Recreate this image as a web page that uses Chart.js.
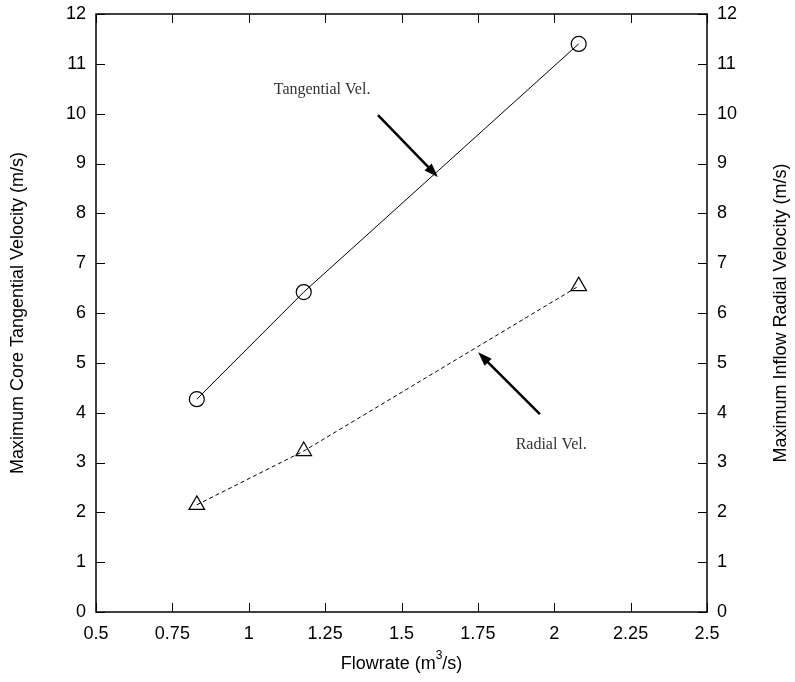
<!DOCTYPE html>
<html>
<head>
<meta charset="utf-8">
<script src="https://cdn.jsdelivr.net/npm/chart.js@4.4.0/dist/chart.umd.min.js"></script>
<style>
  html, body { margin: 0; padding: 0; background: #fff; }
  #wrap { width: 795px; height: 682px; }
</style>
</head>
<body>
<div id="wrap"><canvas id="chart" width="795" height="682"></canvas></div>
<script>
// --- data ---
const flowrate = [0.83, 1.18, 2.08];
const tangentialVel = [4.27, 6.42, 11.40];
const radialVel = [2.15, 3.23, 6.54];

const xTicks = [0.5, 0.75, 1, 1.25, 1.5, 1.75, 2, 2.25, 2.5];
const yTicks = [0, 1, 2, 3, 4, 5, 6, 7, 8, 9, 10, 11, 12];

const xTitle = ["Flowrate (m", "3", "/s)"];
const yTitle = "Maximum Core Tangential Velocity (m/s)";
const y2Title = "Maximum Inflow Radial Velocity (m/s)";

// annotation text + arrows, in data coordinates
const labelText = ["Tangential Vel.", "Radial Vel."];
const labelAt = [[1.24, 10.48], [1.99, 3.35]];
const arrowFrom = [[1.423, 9.97], [1.953, 3.97]];
const arrowTo = [[1.619, 8.73], [1.751, 5.21]];

const SANS = "'Liberation Sans', Arial, sans-serif";
Chart.defaults.font.family = SANS;
Chart.defaults.font.size = 18;
Chart.defaults.color = "#000";

// frame with inward ticks on all four sides, titles, arrows and labels
const framePlugin = {
  id: "frame",
  afterDatasetsDraw(chart) {
    const ctx = chart.ctx;
    const a = chart.chartArea;
    const x = chart.scales.x, y = chart.scales.y;
    ctx.save();
    ctx.strokeStyle = "#000";
    ctx.lineWidth = 1.5;
    ctx.strokeRect(a.left, a.top, a.right - a.left, a.bottom - a.top);
    ctx.lineWidth = 1;
    ctx.beginPath();
    xTicks.forEach(v => {
      const px = Math.round(x.getPixelForValue(v)) + 0.5;
      ctx.moveTo(px, a.bottom); ctx.lineTo(px, a.bottom - 9);
      ctx.moveTo(px, a.top); ctx.lineTo(px, a.top + 9);
    });
    yTicks.forEach(v => {
      const py = Math.round(y.getPixelForValue(v)) + 0.5;
      ctx.moveTo(a.left, py); ctx.lineTo(a.left + 9, py);
      ctx.moveTo(a.right, py); ctx.lineTo(a.right - 9, py);
    });
    ctx.stroke();

    // axis titles
    ctx.fillStyle = "#000";
    ctx.textBaseline = "middle";
    ctx.font = "18px " + SANS;
    const midY = (a.top + a.bottom) / 2;
    [[18, yTitle], [781, y2Title]].forEach(([cx, t]) => {
      ctx.save();
      ctx.translate(cx, midY);
      ctx.rotate(-Math.PI / 2);
      ctx.textAlign = "center";
      ctx.fillText(t, 0, 0);
      ctx.restore();
    });
    const w0 = ctx.measureText(xTitle[0]).width;
    const w2 = ctx.measureText(xTitle[2]).width;
    ctx.font = "12px " + SANS;
    const w1 = ctx.measureText(xTitle[1]).width;
    let tx = (a.left + a.right) / 2 - (w0 + w1 + w2) / 2;
    const ty = 664;
    ctx.textAlign = "left";
    ctx.font = "18px " + SANS;
    ctx.fillText(xTitle[0], tx, ty);
    ctx.font = "12px " + SANS;
    ctx.fillText(xTitle[1], tx + w0, ty - 8);
    ctx.font = "18px " + SANS;
    ctx.fillText(xTitle[2], tx + w0 + w1, ty);

    // arrows
    for (let i = 0; i < arrowFrom.length; i++) {
      const x0 = x.getPixelForValue(arrowFrom[i][0]), y0 = y.getPixelForValue(arrowFrom[i][1]);
      const x1 = x.getPixelForValue(arrowTo[i][0]), y1 = y.getPixelForValue(arrowTo[i][1]);
      const ang = Math.atan2(y1 - y0, x1 - x0);
      const hl = 14, hw = 5;
      ctx.lineWidth = 2.5;
      ctx.beginPath();
      ctx.moveTo(x0, y0);
      ctx.lineTo(x1 - Math.cos(ang) * hl * 0.8, y1 - Math.sin(ang) * hl * 0.8);
      ctx.stroke();
      ctx.beginPath();
      ctx.moveTo(x1, y1);
      ctx.lineTo(x1 - Math.cos(ang) * hl - Math.sin(ang) * hw, y1 - Math.sin(ang) * hl + Math.cos(ang) * hw);
      ctx.lineTo(x1 - Math.cos(ang) * hl + Math.sin(ang) * hw, y1 - Math.sin(ang) * hl - Math.cos(ang) * hw);
      ctx.closePath();
      ctx.fill();
    }

    // labels
    ctx.font = "16px 'Liberation Serif', 'DejaVu Serif', serif";
    ctx.fillStyle = "#333";
    ctx.textAlign = "center";
    for (let i = 0; i < labelText.length; i++) {
      ctx.fillText(labelText[i], x.getPixelForValue(labelAt[i][0]), y.getPixelForValue(labelAt[i][1]));
    }
    ctx.restore();
  }
};

const fitY = w => s => { s.width = w; s.paddingTop = 0; s.paddingBottom = 0; };

new Chart(document.getElementById("chart").getContext("2d"), {
  type: "scatter",
  data: {
    datasets: [
      {
        label: "Tangential Vel.",
        data: flowrate.map((f, i) => ({ x: f, y: tangentialVel[i] })),
        showLine: true,
        borderColor: "#000",
        borderWidth: 1,
        pointStyle: "circle",
        pointRadius: 7.5,
        pointBorderWidth: 1.2,
        pointBorderColor: "#000",
        pointBackgroundColor: "rgba(0,0,0,0)",
        yAxisID: "y"
      },
      {
        label: "Radial Vel.",
        data: flowrate.map((f, i) => ({ x: f, y: radialVel[i] })),
        showLine: true,
        borderColor: "#000",
        borderWidth: 1,
        borderDash: [4, 3],
        pointStyle: "triangle",
        pointRadius: 9,
        pointBorderWidth: 1.2,
        pointBorderColor: "#000",
        pointBackgroundColor: "rgba(0,0,0,0)",
        yAxisID: "y"
      }
    ]
  },
  options: {
    responsive: false,
    animation: false,
    layout: { padding: { top: 14, left: 0, right: 0, bottom: 0 } },
    plugins: {
      legend: { display: false },
      tooltip: { enabled: false }
    },
    scales: {
      x: {
        type: "linear",
        min: 0.5, max: 2.5,
        afterBuildTicks: s => { s.ticks = xTicks.map(v => ({ value: v })); },
        afterFit: s => { s.height = 70; s.paddingLeft = 0; s.paddingRight = 0; },
        grid: { display: false, drawTicks: false },
        border: { display: false },
        ticks: { padding: 11, maxRotation: 0, callback: v => String(v) }
      },
      y: {
        type: "linear", position: "left",
        min: 0, max: 12,
        afterBuildTicks: s => { s.ticks = yTicks.map(v => ({ value: v })); },
        afterFit: fitY(96),
        grid: { display: false, drawTicks: false },
        border: { display: false },
        ticks: { padding: 10 }
      },
      y2: {
        type: "linear", position: "right",
        min: 0, max: 12,
        afterBuildTicks: s => { s.ticks = yTicks.map(v => ({ value: v })); },
        afterFit: fitY(88),
        grid: { display: false, drawTicks: false },
        border: { display: false },
        ticks: { padding: 10 }
      }
    }
  },
  plugins: [framePlugin]
});
</script>
</body>
</html>
